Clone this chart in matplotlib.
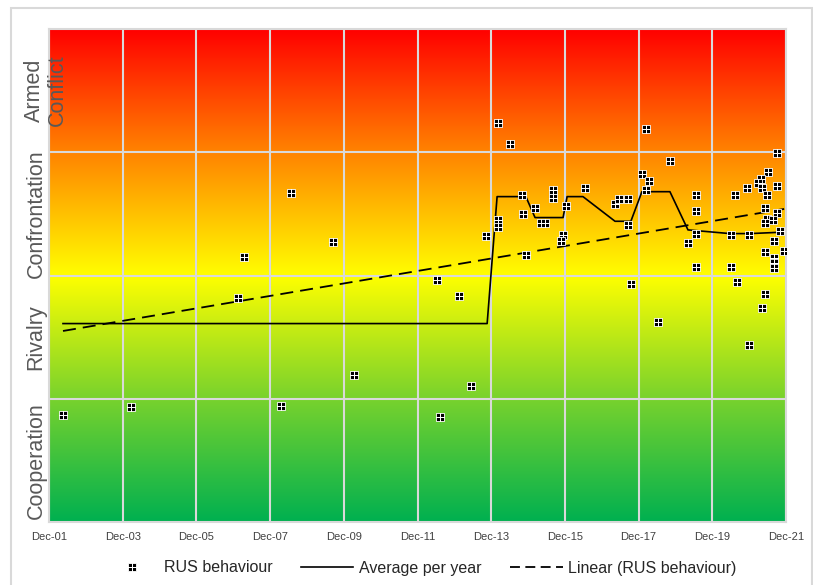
import numpy as np
import matplotlib
matplotlib.use('Agg')
import matplotlib.pyplot as plt
from matplotlib.path import Path
from matplotlib.lines import Line2D
from matplotlib.patches import Rectangle

plt.rcParams['font.family'] = ['Liberation Sans', 'DejaVu Sans']

# RUS behaviour events: decimal year, level (0 = bottom of Cooperation, 4 = top of Armed Conflict)
rus_x = [2002.30, 2004.14, 2007.05, 2007.21, 2008.22, 2008.49, 2009.63, 2010.20,
         2012.45, 2012.53, 2013.05, 2013.37, 2013.78, 2014.10, 2014.10, 2014.10,
         2014.43, 2014.76, 2014.78, 2014.86, 2015.11, 2015.27, 2015.38, 2015.60,
         2015.60, 2015.95, 2015.87, 2015.81, 2016.47, 2017.28, 2017.39, 2017.63,
         2017.63, 2017.71, 2018.12, 2018.01, 2018.20, 2018.12, 2018.77, 2018.45,
         2019.48, 2019.48, 2019.48, 2019.26, 2019.48, 2021.68, 2021.43, 2021.24,
         2021.16, 2021.27, 2020.86, 2021.68, 2021.40, 2020.54, 2021.35, 2021.68,
         2021.40, 2021.57, 2021.35, 2020.43, 2020.92, 2021.76, 2021.59, 2021.35,
         2021.87, 2021.59, 2021.59, 2021.59, 2020.43, 2020.59, 2021.35, 2021.27,
         2020.92]
rus_y = [0.87, 0.93, 1.82, 2.15, 0.94, 2.67, 2.27, 1.19,
         1.96, 0.85, 1.83, 1.10, 2.32, 3.24, 2.45, 2.39,
         3.07, 2.65, 2.50, 2.17, 2.55, 2.43, 2.43, 2.69,
         2.63, 2.56, 2.33, 2.28, 2.71, 2.58, 2.62, 2.62,
         2.41, 1.93, 3.19, 2.82, 2.77, 2.69, 2.93, 1.62,
         2.65, 2.52, 2.34, 2.26, 2.07, 2.99, 2.84, 2.78,
         2.75, 2.71, 2.71, 2.73, 2.65, 2.65, 2.55, 2.51,
         2.46, 2.45, 2.43, 2.33, 2.33, 2.36, 2.28, 2.19,
         2.20, 2.14, 2.10, 2.06, 2.07, 1.95, 1.85, 1.74,
         1.44]

# Average per year
avg_x = [2002.30, 2013.81, 2014.08, 2014.86, 2015.11, 2015.87, 2015.98, 2016.41,
         2017.28, 2017.71, 2018.01, 2018.77, 2019.26, 2020.40, 2020.94, 2021.70]
avg_y = [1.61, 1.61, 2.64, 2.64, 2.47, 2.47, 2.64, 2.64,
         2.44, 2.44, 2.68, 2.68, 2.37, 2.34, 2.34, 2.35]

# Linear (RUS behaviour)
trend_x = [2002.30, 2021.87]
trend_y = [1.55, 2.54]

tick_start = 2001.92
tick_labels = ['Dec-01', 'Dec-03', 'Dec-05', 'Dec-07', 'Dec-09', 'Dec-11',
               'Dec-13', 'Dec-15', 'Dec-17', 'Dec-19', 'Dec-21']
band_labels = ['Cooperation', 'Rivalry', 'Confrontation', 'Armed\nConflict']

# background colour stops (level -> rgb)
grad_levels = [0.0, 1.0, 2.0, 3.0, 4.0]
grad_colors = [(0, 176, 80), (120, 210, 45), (255, 255, 0), (255, 132, 0), (255, 0, 0)]


def quad_marker():
    verts, codes = [], []
    s = 0.45
    for cx in (-0.5, 0.5):
        for cy in (-0.5, 0.5):
            verts += [(cx - s, cy - s), (cx + s, cy - s), (cx + s, cy + s),
                      (cx - s, cy + s), (0, 0)]
            codes += [Path.MOVETO, Path.LINETO, Path.LINETO, Path.LINETO,
                      Path.CLOSEPOLY]
    return Path(verts, codes)


W, H = 813, 585
fig = plt.figure(figsize=(W / 100, H / 100), dpi=100)
ax = fig.add_axes([49 / W, (H - 522) / H, 737 / W, 493 / H])
ax.patch.set_visible(False)

xmin, xmax = tick_start, tick_start + 2 * (len(tick_labels) - 1)
ymin, ymax = 0, 4

# Gradient background
lv = np.linspace(ymin, ymax, 400)
rgb = np.array([np.interp(lv, grad_levels, [c[k] for c in grad_colors])
                for k in range(3)]).T / 255.0
ax.imshow(rgb[:, None, :], extent=[xmin, xmax, ymin, ymax], origin='lower',
          aspect='auto', zorder=-1, interpolation='bilinear')

# Grid
gcol = '#d9d9d9'
xticks = [tick_start + 2 * i for i in range(len(tick_labels))]
for xt in xticks:
    ax.axvline(xt, color=gcol, lw=1.5, zorder=1)
for yt in [1, 2, 3]:
    ax.axhline(yt, color=gcol, lw=1.5, zorder=1)

ax.plot(avg_x, avg_y, color='black', lw=1.2, zorder=3)
dash, = ax.plot(trend_x, trend_y, color='black', lw=1.3, zorder=3)
dash.set_dashes([7.2, 3.9])
ax.plot(rus_x, rus_y, linestyle='none', marker=quad_marker(), ms=6.4,
        mfc='black', mec='white', mew=0.6, zorder=4)

ax.set_xlim(xmin, xmax)
ax.set_ylim(ymin, ymax)

for sp in ax.spines.values():
    sp.set_color(gcol)
    sp.set_linewidth(1.5)

ax.set_xticks(xticks)
ax.set_xticklabels(tick_labels, fontsize=8, color='#404040')
ax.tick_params(axis='x', length=0, pad=7)
ax.set_yticks([])

for i, lab in enumerate(band_labels):
    xpos = -0.004 if '\n' in lab else -0.0176
    ax.text(xpos, (i + 0.5) / 4, lab, transform=ax.transAxes, rotation=90,
            ha='center', va='center', multialignment='center',
            fontsize=15.5, color='#595959', linespacing=1.15, zorder=5)

# Legend
h1 = Line2D([], [], linestyle='none', marker=quad_marker(), ms=6.4,
            mfc='black', mec='white', mew=0.6)
h2 = Line2D([], [], color='black', lw=1.2)
h3 = Line2D([], [], color='black', lw=1.3, dashes=[5.5, 3.0])
leg = fig.legend([h1, h2, h3], ['RUS behaviour', 'Average per year', 'Linear (RUS behaviour)'],
                 loc='center', bbox_to_anchor=(421 / W, (H - 568) / H), ncol=3,
                 frameon=False, fontsize=11.5, handlelength=3.3, handletextpad=0.35,
                 columnspacing=1.78, numpoints=1)
for t in leg.get_texts():
    t.set_color('#262626')

# outer chart border
fig.patches.append(Rectangle((10.5 / W, -0.1), (811.5 - 10.5) / W, (H - 8.5) / H + 0.1,
                             transform=fig.transFigure, fill=False,
                             edgecolor=gcol, lw=1.5))

plt.savefig('out.png', dpi=100)
